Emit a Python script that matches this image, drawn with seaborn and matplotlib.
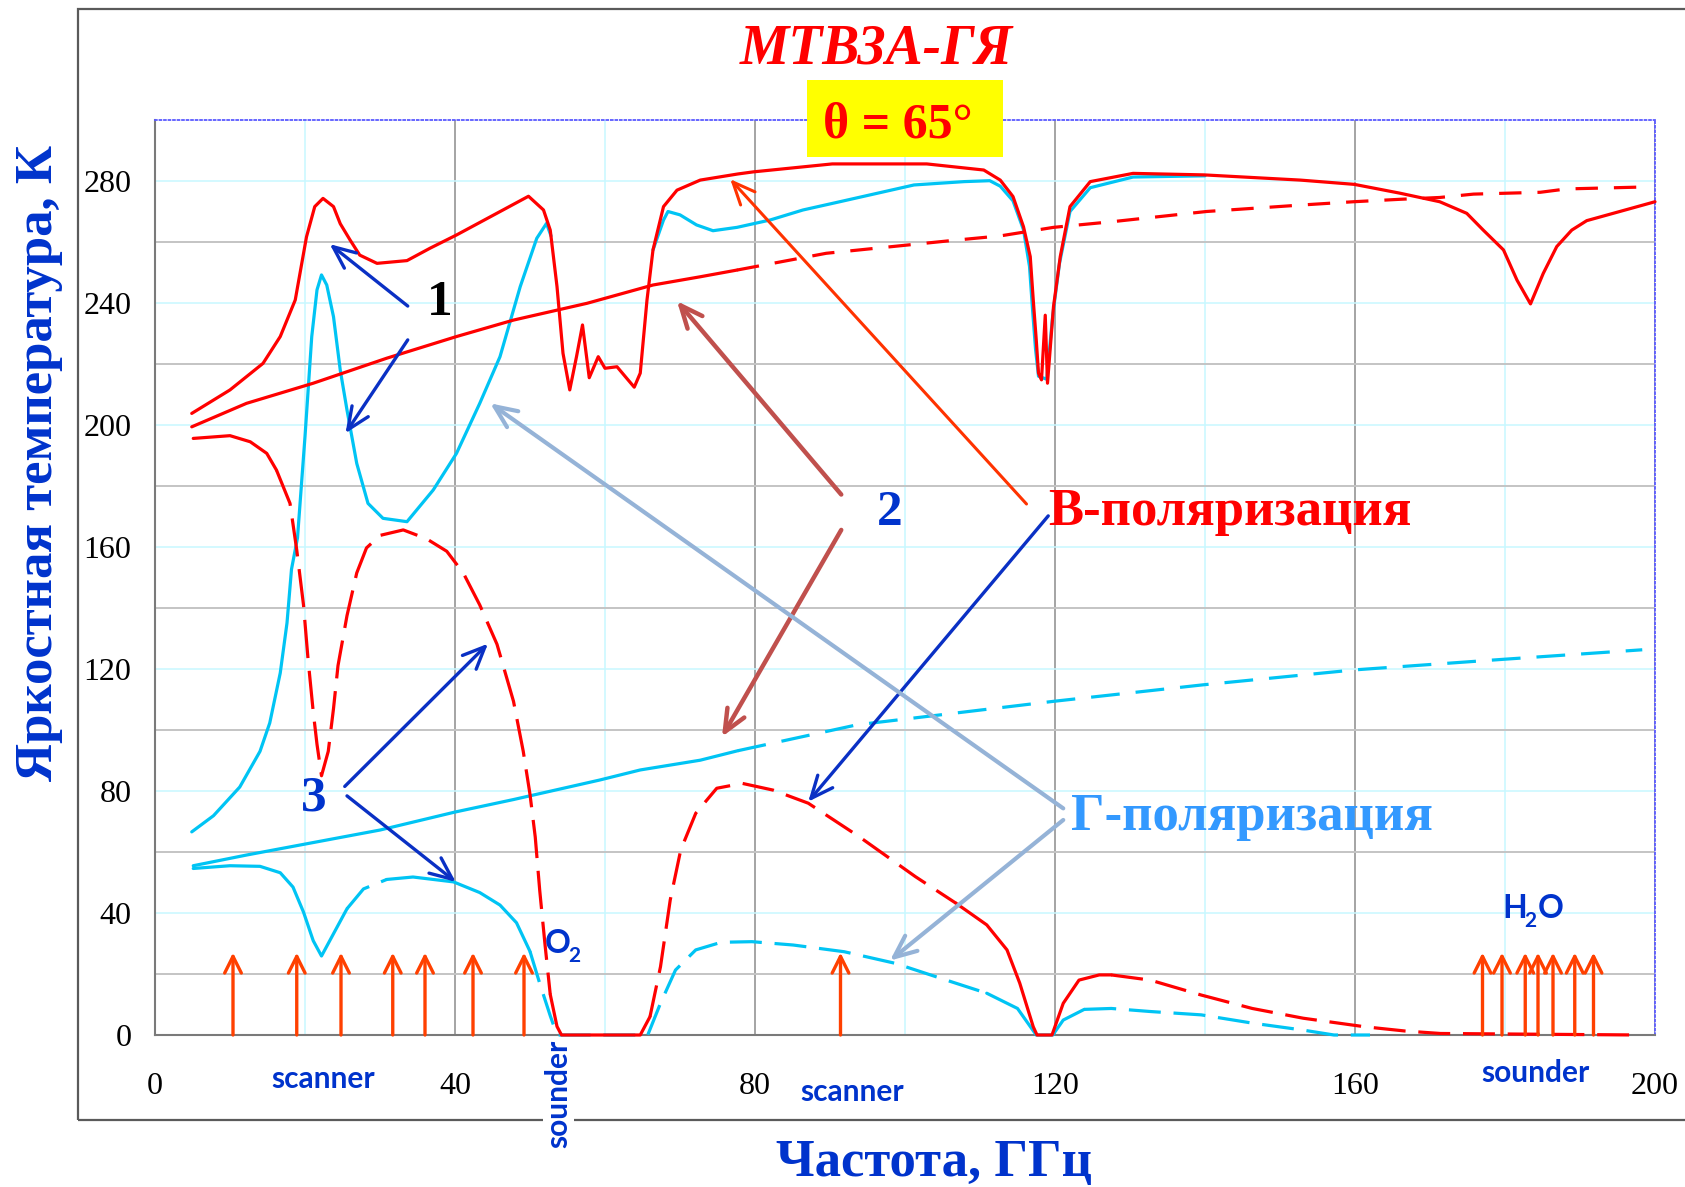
import numpy as np
import pandas as pd
import matplotlib
matplotlib.use("Agg")
import matplotlib.pyplot as plt
import seaborn as sns
from matplotlib.patches import Rectangle

# ---------------- data ----------------
# curve 1, V-polarisation (solid red, upper)
freq_v1 = [4.9, 10, 14.4, 16.7, 18.7, 20.2, 21.3, 22.4, 23.8, 24.7, 26, 27.3, 29.6, 33.6, 36.7,
           40.2, 46.4, 49.8, 51.8, 52.7, 53.6, 54.4, 55.3, 56.2, 57.0, 57.9, 59.1, 60.0, 61.6,
           62.9, 63.9, 64.7, 65.6, 66.4, 67.8, 69.6, 72.7, 77.7, 79.8, 90.3, 102.9, 110.5, 112.7,
           114.4, 115.8, 116.7, 117.1, 117.5, 117.8, 118.2, 118.7, 119.0, 119.8, 120.7, 122,
           124.7, 130.4, 139.9, 152.7, 159.9, 166, 171.3, 174.9, 177.1, 179.8, 181.6, 183.4,
           185.1, 186.9, 188.9, 190.9, 200]
tb_v1 = [203.8, 211.5, 220.2, 229, 241, 261.7, 271.6, 274.3, 271.6, 266, 260.7, 255.7, 253, 253.9,
         258, 262.3, 270.5, 275, 270.5, 263.9, 245.4, 223.5, 211.5, 222.4, 232.8, 215.5, 222.4,
         218.6, 219.1, 215.3, 212.4, 217, 241, 257.4, 271.6, 277, 280.3, 282.3, 283.0, 285.6,
         285.6, 283.6, 280.3, 274.9, 265, 255.2, 241, 227.9, 217, 214.8, 236, 213.7, 238.8,
         255.2, 271.6, 279.8, 282.5, 282, 280.3, 278.9, 276, 273.2, 269.4, 263.9, 257.4, 247.5,
         239.7, 249.7, 258.5, 263.9, 267, 273.2]

# curve 1, H-polarisation (solid cyan, upper) - two visible pieces
freq_h1a = [4.9, 7.8, 11.3, 14, 15.3, 16.7, 17.6, 18.2, 19.0, 20.0, 20.9, 21.6, 22.2, 22.9, 23.8,
            24.7, 25.6, 26.9, 28.4, 30.4, 33.6, 37.1, 40.2, 43.3, 46, 48.7, 50.9, 52.2, 52.8]
tb_h1a = [66.6, 71.9, 81.3, 93, 102.3, 118.7, 135.1, 152.7, 163, 196.2, 229, 244.3, 249.2, 245.9,
          235.5, 218, 204.9, 187.4, 174.3, 169.4, 168.3, 178.7, 190.7, 207.1, 222.4, 245.4,
          261.2, 266.1, 262]
freq_h1b = [66.4, 67.8, 68.4, 70, 72.2, 74.4, 77.6, 82, 86.4, 91.3, 101.2, 107.9, 111.3, 112.7,
            114.4, 115.8, 116.6, 117.0, 117.4, 117.8, 118.9, 119.7, 120.6, 122, 124.7, 130.4, 140]
tb_h1b = [257.4, 267.2, 270, 268.9, 265.6, 263.7, 264.8, 267.2, 270.5, 273.2, 278.7, 279.8, 280.1,
          278.3, 273.5, 264, 252, 238, 225, 216, 215, 236, 253, 270, 277.8, 281.3, 281.7]

# curve 2, V-polarisation (red, rising)
freq_v2 = [4.9, 12.2, 21.1, 30.9, 40.2, 47.8, 57.6, 66.4, 72.7, 77.6, 89.5, 106.3, 112.7, 119.8,
           127.8, 140.2, 152.7, 159.8, 166, 171.3, 175.8, 184.7, 188.2, 198]
tb_v2 = [199.4, 207.1, 213.7, 221.9, 229, 234.4, 239.9, 245.9, 248.6, 250.8, 256.3, 260.5, 262,
         264.8, 266.7, 270, 272.1, 273.2, 274.0, 274.6, 275.7, 276.3, 277.4, 278]

# curve 2, H-polarisation (cyan, rising)
freq_h2 = [5.1, 12.2, 21.1, 30, 40, 47.8, 59.3, 64.7, 72.7, 77.7, 93.6, 119.8, 139.7, 159.9,
           179.9, 198.3]
tb_h2 = [55.5, 59, 63.1, 67.2, 73.1, 77.2, 83.6, 86.9, 90.1, 93.2, 101.7, 109.4, 114.8, 119.7,
         123.2, 126.3]

# curve 3, V-polarisation (red, lower)
freq_v3 = [5.1, 10, 12.7, 14.9, 16.2, 18, 18.9, 19.8, 20.4, 21.1, 21.6, 22.2, 23.1, 23.8, 24.4,
           25.6, 26.9, 28.2, 30, 33.1, 36.2, 38.9, 41.1, 43.3, 45.6, 47.8, 49.1, 50, 50.7, 51.3,
           52, 52.7, 53.6, 54.2, 64.7, 66, 67.4, 68.7, 70.1, 72.1, 74.9, 78.3, 82.4, 87.1, 93.9,
           101.4, 106.8, 110.9, 113.6, 115.3, 117.1, 117.6, 119.6, 121.1, 123.2, 125.9, 127.5,
           132.7, 139.5, 146.3, 153.1, 161.3, 166.7, 171.4, 198]
tb_v3 = [195.6, 196.5, 194.5, 190.7, 185.2, 174.3, 159, 141, 123.4, 105.9, 95.3, 85, 93, 107,
         121.1, 137.5, 151.5, 159.7, 163.8, 165.6, 162.7, 158.6, 151.5, 141, 128.1, 109.4, 93,
         78.9, 64.9, 47.3, 29.7, 13.3, 2.8, 0, 0, 6, 22.4, 44.3, 60.7, 72.7, 80.9, 82.5, 80.3,
         76, 65, 51.9, 43.2, 36.1, 27.9, 17, 2.7, 0, 0, 10.4, 18, 19.7, 19.7, 18, 13.1, 8.7,
         5.5, 2.7, 1.3, 0.5, 0]

# curve 3, H-polarisation (cyan, lower)
freq_h3 = [5.1, 10, 14, 16.7, 18.4, 19.8, 21.1, 22.2, 23.8, 25.6, 27.8, 30.9, 34.4, 39.8, 43.3,
           46, 48.2, 50, 51.3, 52.7, 53.6, 65.7, 67.4, 69.4, 72.1, 75.5, 79.6, 85.1, 91.9, 98.7,
           105.5, 110.9, 115, 117.5, 119.7, 121.1, 123.9, 127.5, 132.7, 139.5, 146.3, 153.1,
           157.2, 162]
tb_h3 = [54.6, 55.5, 55.3, 53.2, 48.5, 40.3, 30.9, 25.9, 33.2, 41.4, 47.9, 51, 51.8, 50.2, 46.7,
         42.6, 36.8, 27.4, 16.9, 6.3, 0, 0, 10.4, 21.3, 27.9, 30.4, 30.6, 29.5, 27.3, 23.5, 18,
         13.7, 8.7, 0, 0, 4.9, 8.4, 8.7, 7.7, 6.6, 3.9, 1.6, 0, 0]

# instrument channels (GHz) and marker height (K)
channels_scanner = [10.4, 18.9, 24.8, 31.7, 36.0, 42.4, 49.2]
channels_scanner2 = [91.4]
channels_h2o = [177.0, 179.6, 182.7, 184.4, 186.4, 189.3, 191.8]
channel_marker_tb = 27

x_ticks = [0, 40, 80, 120, 160, 200]
y_ticks = [0, 40, 80, 120, 160, 200, 240, 280]

# ---------------- styling ----------------
sns.set_style("white")
plt.rcParams["font.family"] = ["Liberation Serif", "DejaVu Serif"]

RED = "#ff0000"
CYAN = "#00c4f4"
BLUE = "#0033cc"
SOLID = "-"

fig = plt.figure(figsize=(16.85, 11.87), dpi=100)
fig.patch.set_facecolor("white")
ax = fig.add_axes([155 / 1685, 1 - 1035 / 1187, 1500 / 1685, 915 / 1187])
ax.set_facecolor("white")


def draw(freq, tb, segments, color, lw=2.3, z=3):
    df = pd.DataFrame({"f": freq, "t": tb})
    for a, b, ls in segments:
        sub = df[(df["f"] >= a) & (df["f"] <= b)]
        sns.lineplot(data=sub, x="f", y="t", ax=ax, color=color, linewidth=lw,
                     linestyle=ls, sort=False, estimator=None, zorder=z, clip_on=False)


D1 = (0, (7, 5))
D2 = (0, (12, 4))
D3 = (0, (10, 4))

draw(freq_h2, tb_h2, [(0, 77.7, SOLID), (77.7, 200, (0, (9, 5)))], CYAN)
draw(freq_h3, tb_h3, [(0, 25.6, SOLID), (25.6, 30.9, D3), (30.9, 50, SOLID),
                      (50, 110.9, D3), (110.9, 123.9, SOLID), (123.9, 200, D3)], CYAN)
draw(freq_h1a, tb_h1a, [(0, 200, SOLID)], CYAN)
draw(freq_h1b, tb_h1b, [(0, 200, SOLID)], CYAN)
draw(freq_v3, tb_v3, [(0, 16.2, SOLID), (16.2, 52.7, D2), (52.7, 66, SOLID),
                      (66, 106.8, D3), (106.8, 127.5, SOLID), (127.5, 200, D3)], RED, z=4)
draw(freq_v2, tb_v2, [(0, 77.6, SOLID), (77.6, 200, D1)], RED, z=4)
draw(freq_v1, tb_v1, [(0, 200, SOLID)], RED, z=4)

# channel markers
ARROW_C = "#ff4000"
for f in channels_scanner + channels_scanner2 + channels_h2o:
    ax.annotate("", xy=(f, channel_marker_tb), xytext=(f, 0),
                arrowprops=dict(arrowstyle="->,head_length=0.6,head_width=0.3",
                                color=ARROW_C, lw=2.4, shrinkA=0, shrinkB=0,
                                mutation_scale=20), zorder=5, annotation_clip=False)

# axes
ax.set_xlim(0, 200)
ax.set_ylim(0, 300)
ax.set_xlabel("")
ax.set_ylabel("")
ax.set_xticks(x_ticks)
ax.set_xticks([20, 60, 100, 140, 180], minor=True)
ax.set_yticks(y_ticks)
ax.set_yticks([20, 60, 100, 140, 180, 220, 260], minor=True)
ax.set_xticklabels([str(v) for v in x_ticks])
ax.set_yticklabels([str(v) for v in y_ticks])
ax.tick_params(axis="both", which="major", direction="out", length=8, width=1.2,
               color="#808080", labelcolor="black", labelsize=23)
ax.tick_params(axis="x", which="major", pad=19)
ax.tick_params(axis="y", which="major", pad=9)
ax.tick_params(which="minor", length=0)
ax.grid(False)
ax.grid(True, axis="x", which="major", color="#8c8c8c", lw=1.1, zorder=0)
ax.grid(True, axis="x", which="minor", color="#c8f8ff", lw=1.1, zorder=0)
ax.grid(True, axis="y", which="major", color="#c8f8ff", lw=1.1, zorder=0)
ax.grid(True, axis="y", which="minor", color="#c4c4c4", lw=1.4, zorder=0)
ax.set_axisbelow(True)
for s in ["left", "bottom"]:
    ax.spines[s].set_color("#7a7a7a")
    ax.spines[s].set_linewidth(1.5)
for s in ["top", "right"]:
    ax.spines[s].set_color("#5a5aff")
    ax.spines[s].set_linewidth(1.3)
    ax.spines[s].set_linestyle((0, (1, 1.5)))

# outer frame
fig.add_artist(Rectangle((78 / 1685, 1 - 1120 / 1187), 1.0, (1120 - 9) / 1187,
                         transform=fig.transFigure, fill=False, edgecolor="#5a5a5a",
                         lw=1.6, zorder=-1))

# title and angle box
fig.text(876 / 1685, 1 - 63 / 1187, "МТВЗА-ГЯ", ha="center", va="baseline", fontsize=40,
         style="italic", weight="bold", color=RED)
fig.add_artist(Rectangle((807 / 1685, 1 - 157 / 1187), 196 / 1685, 77 / 1187,
                         transform=fig.transFigure, facecolor="#ffff00", edgecolor="none",
                         zorder=5))
fig.text(898 / 1685, 1 - 137 / 1187, "θ = 65°", ha="center", va="baseline", fontsize=36,
         weight="bold", color=RED, zorder=6)

# axis labels
fig.text(39 / 1685, 1 - 463 / 1187, "Яркостная температура, К", rotation=90, ha="center",
         va="center", fontsize=38, weight="bold", color=BLUE)
fig.text(934 / 1685, 1 - 1176 / 1187, "Частота, ГГц", ha="center", va="baseline",
         fontsize=38, weight="bold", color=BLUE)

# annotation numbers / labels
ax.text(38.0, 239.9, "1", ha="center", va="center", fontsize=37, weight="bold", color="black")
ax.text(98.0, 171.2, "2", ha="center", va="center", fontsize=37, weight="bold", color=BLUE)
ax.text(21.1, 77.4, "3", ha="center", va="center", fontsize=37, weight="bold", color=BLUE)
ax.text(119.1, 167.2, "В-поляризация", ha="left", va="baseline", fontsize=38,
        weight="bold", color=RED, zorder=6)
ax.text(122.1, 67.2, "Г-поляризация", ha="left", va="baseline", fontsize=38,
        weight="bold", color="#3399ff", zorder=6)


def arrow(start, tip, color, lw):
    ax.annotate("", xy=tip, xytext=start,
                arrowprops=dict(arrowstyle="->,head_length=0.8,head_width=0.35", color=color,
                                lw=lw, shrinkA=0, shrinkB=0, mutation_scale=20),
                zorder=6, annotation_clip=False)


DARKBLUE = "#0a30c4"
arrow((33.7, 239.0), (23.3, 259.3), DARKBLUE, 2.4)
arrow((33.7, 227.9), (25.4, 197.3), DARKBLUE, 2.4)
arrow((91.5, 177.2), (69.6, 240.6), "#c0504d", 3.2)
arrow((91.5, 165.6), (75.6, 97.8), "#c0504d", 3.2)
arrow((25.3, 81.5), (44.4, 128.3), DARKBLUE, 2.4)
arrow((25.6, 78.4), (40.1, 50.2), DARKBLUE, 2.4)
arrow((116.2, 174.1), (76.7, 280.6), "#ff3300", 2.2)
arrow((119.1, 170.2), (87.1, 76.5), DARKBLUE, 2.4)
arrow((121.1, 74.3), (44.7, 207.1), "#95b3d7", 3.0)
arrow((121.1, 70.5), (98.0, 24.4), "#95b3d7", 3.0)

# band labels (sans)
SANS = ["Lato", "DejaVu Sans"]
ax.text(22.4, -17.5, "scanner", ha="center", va="baseline", fontsize=21.5, weight="bold",
        color=BLUE, family=SANS, clip_on=False)
ax.text(93.0, -21.5, "scanner", ha="center", va="baseline", fontsize=21.5, weight="bold",
        color=BLUE, family=SANS, clip_on=False)
ax.text(184.1, -15.3, "sounder", ha="center", va="baseline", fontsize=21.5, weight="bold",
        color=BLUE, family=SANS, clip_on=False)
ax.text(53.8, -19.2, "sounder", rotation=90, ha="center", va="center", fontsize=21.5,
        weight="bold", color=BLUE, family=SANS, clip_on=False,
        bbox=dict(facecolor="white", edgecolor="none", pad=1))
ax.text(52.0, 26.9, "O", ha="left", va="baseline", fontsize=23, weight="bold", color=BLUE,
        family=SANS, zorder=7)
ax.text(55.1, 23.9, "2", ha="left", va="baseline", fontsize=15, weight="bold", color=BLUE,
        family=SANS, zorder=7)
ax.text(179.7, 38.4, "H", ha="left", va="baseline", fontsize=23, weight="bold", color=BLUE,
        family=SANS, zorder=7)
ax.text(182.6, 35.4, "2", ha="left", va="baseline", fontsize=15, weight="bold", color=BLUE,
        family=SANS, zorder=7)
ax.text(184.4, 38.4, "O", ha="left", va="baseline", fontsize=23, weight="bold", color=BLUE,
        family=SANS, zorder=7)

fig.savefig("out.png", dpi=100, facecolor="white")
